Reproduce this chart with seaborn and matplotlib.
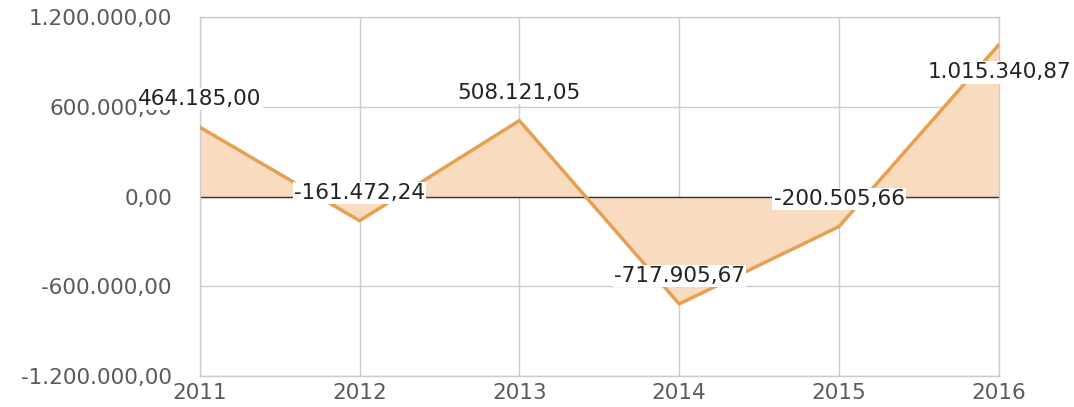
import matplotlib
matplotlib.use("Agg")
import matplotlib.pyplot as plt
import matplotlib.ticker as mticker
import numpy as np
import pandas as pd
import seaborn as sns

# Annual result series
years = [2011, 2012, 2013, 2014, 2015, 2016]
values = [464185.00, -161472.24, 508121.05, -717905.67, -200505.66, 1015340.87]
y_ticks = [-1200000, -600000, 0, 600000, 1200000]

LINE = "#e6a052"
FILL = "#f9dbbf"
TEXT_GRAY = "#5a5a5a"


def br_number(v):
    """Format with '.' thousands separator and ',' decimal mark."""
    s = f"{abs(v):,.2f}".replace(",", "X").replace(".", ",").replace("X", ".")
    return ("-" if v < 0 else "") + s


sns.set_theme(style="white")
plt.rcParams["font.family"] = ["DejaVu Sans"]

df = pd.DataFrame({"year": years, "value": values})

fig = plt.figure(figsize=(10.74, 4.07), dpi=100)
ax = fig.add_axes([0.186, 0.076, 0.744, 0.882])

ax.fill_between(df["year"], df["value"], 0, color=FILL, linewidth=0, zorder=1)
sns.lineplot(data=df, x="year", y="value", ax=ax, color=LINE, linewidth=2.5,
             zorder=3)

ax.set_xlim(years[0], years[-1])
ax.set_ylim(y_ticks[0], y_ticks[-1])
ax.set_xticks(years)
ax.set_yticks(y_ticks)
ax.yaxis.set_major_formatter(mticker.FuncFormatter(lambda v, _: br_number(v)))
ax.set_xlabel("")
ax.set_ylabel("")

ax.grid(True, color="#cccccc", linewidth=1)
ax.set_axisbelow(True)
for sp in ax.spines.values():
    sp.set_color("#cccccc")
    sp.set_linewidth(1)
ax.axhline(0, color="#333333", linewidth=1, zorder=2)

ax.tick_params(axis="both", length=0, labelsize=15.5, colors=TEXT_GRAY)
ax.tick_params(axis="y", pad=20)
ax.tick_params(axis="x", pad=5)

box = dict(boxstyle="square,pad=0.05", facecolor="white", edgecolor="none")
for i, (x, v) in enumerate(zip(years, values)):
    if i == len(years) - 1:
        ax.annotate(br_number(v), (x, v), xytext=(52, -20),
                    textcoords="offset points", ha="right", va="center",
                    fontsize=15.5, color="#222222", bbox=box, zorder=5,
                    annotation_clip=False)
    else:
        ax.annotate(br_number(v), (x, v), xytext=(0, 20),
                    textcoords="offset points", ha="center", va="center",
                    fontsize=15.5, color="#222222", bbox=box, zorder=5,
                    annotation_clip=False)

fig.savefig("out.png", dpi=100, facecolor="white")
